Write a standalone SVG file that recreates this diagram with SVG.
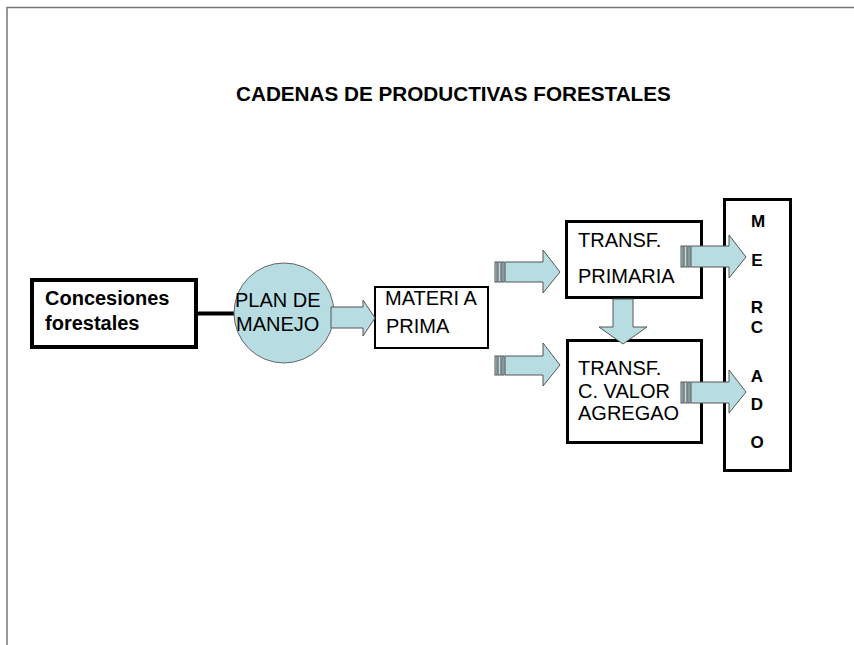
<svg xmlns="http://www.w3.org/2000/svg" width="854" height="645" viewBox="0 0 854 645">
<style>
  .t { font-family: "Liberation Sans", Arial, sans-serif; font-size: 20px; fill: #000; }
  .b { font-weight: bold; }
  .m { font-family: "Liberation Sans", Arial, sans-serif; font-size: 17px; font-weight: bold; fill: #000; text-anchor: middle; }
  .box { fill: #fff; stroke: #000; }
  .blk { fill: #b7dde3; stroke: #555; stroke-width: 1; }
</style>
<rect width="854" height="645" fill="#fff"/>
<path d="M7 645 V7.5 H854" fill="none" stroke="#777" stroke-width="1.5"/>
<g id="title">
  <text class="t b" x="236" y="101" style="font-size:20.7px">CADENAS DE PRODUCTIVAS FORESTALES</text>
</g>
<g id="connectors">
  <line x1="198" y1="313.5" x2="236" y2="313.5" stroke="#000" stroke-width="4"/>
</g>
<g id="concesiones">
  <rect class="box" x="32" y="280" width="164" height="67" stroke-width="4"/>
  <text class="t b" x="45" y="305">Concesiones</text>
  <text class="t b" x="45" y="330">forestales</text>
</g>
<g id="plan-manejo">
  <circle cx="284" cy="313" r="50" fill="#b7dde3" stroke="#666" stroke-width="1"/>
  <text class="t" x="235" y="307">PLAN DE</text>
  <text class="t" x="236" y="331">MANEJO</text>
</g>
<g id="materia-prima">
  <rect class="box" x="375" y="287" width="113" height="61" stroke-width="2"/>
  <text class="t" x="385" y="305">MATERI A</text>
  <text class="t" x="386" y="333">PRIMA</text>
</g>
<g id="transf-primaria">
  <rect class="box" x="566.5" y="221.5" width="135" height="76" stroke-width="3"/>
  <text class="t" x="578" y="247">TRANSF.</text>
  <text class="t" x="578" y="283">PRIMARIA</text>
</g>
<g id="transf-valor">
  <rect class="box" x="567.5" y="340.5" width="134" height="102" stroke-width="3"/>
  <text class="t" x="578" y="375">TRANSF.</text>
  <text class="t" x="578" y="398">C. VALOR</text>
  <text class="t" x="578" y="420">AGREGAO</text>
</g>
<g id="mercado">
  <rect class="box" x="724.5" y="199.5" width="66" height="271" stroke-width="3"/>
  <text class="m" x="758" y="227">M</text>
  <text class="m" x="757" y="266">E</text>
  <text class="m" x="757" y="313">R</text>
  <text class="m" x="757" y="333">C</text>
  <text class="m" x="757" y="382">A</text>
  <text class="m" x="757" y="410">D</text>
  <text class="m" x="757" y="448">O</text>
</g>
<g id="arrows">
  <polygon class="blk" points="331,307 363,307 363,300 375,318 363,336 363,328 331,328"/>
  <rect class="blk" x="495" y="262" width="2" height="20"/>
  <rect class="blk" x="498" y="262" width="3" height="20"/>
  <rect class="blk" x="502" y="262" width="2" height="20"/>
  <polygon class="blk" points="505,262 543,262 543,250 560,272 543,293 543,282 505,282"/>
  <rect class="blk" x="495" y="356" width="2" height="19"/>
  <rect class="blk" x="498" y="356" width="3" height="19"/>
  <rect class="blk" x="502" y="356" width="2" height="19"/>
  <polygon class="blk" points="505,356 543,356 543,343 560,365 543,386 543,375 505,375"/>
  <polygon class="blk" points="613,299 633,299 633,327 647,327 623,344 599,327 613,327"/>
  <rect class="blk" x="681" y="246" width="2" height="21"/>
  <rect class="blk" x="684" y="246" width="3" height="21"/>
  <rect class="blk" x="688" y="246" width="2" height="21"/>
  <polygon class="blk" points="691,246 729,246 729,235 746,257 729,278 729,267 691,267"/>
  <rect class="blk" x="681" y="382" width="2" height="21"/>
  <rect class="blk" x="684" y="382" width="3" height="21"/>
  <rect class="blk" x="688" y="382" width="2" height="21"/>
  <polygon class="blk" points="691,382 729,382 729,370 746,392 729,413 729,403 691,403"/>
</g>
</svg>
